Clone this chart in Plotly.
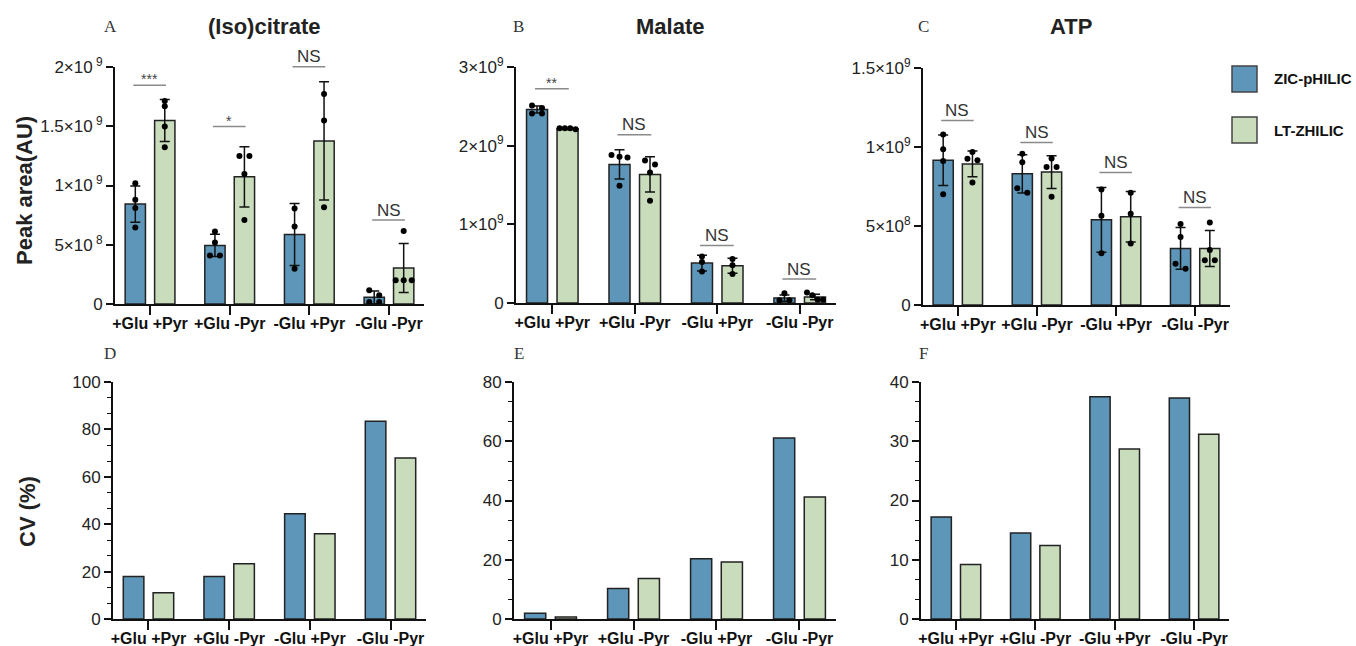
import plotly.graph_objects as go

# ---------------- data ----------------
groups = ["+Glu +Pyr", "+Glu -Pyr", "-Glu +Pyr", "-Glu -Pyr"]
series = ["ZIC-pHILIC", "LT-ZHILIC"]

# (Iso)citrate peak areas (AU)
cit_zic_mean = [0.843e9, 0.494e9, 0.587e9, 0.056e9]
cit_zic_err = [0.153e9, 0.094e9, 0.262e9, 0.054e9]
cit_zic_pts = [[1.02e9, 0.88e9, 0.81e9, 0.646e9],
               [0.612e9, 0.52e9, 0.41e9, 0.41e9],
               [0.806e9, 0.654e9, 0.298e9],
               [0.115e9, 0.073e9, 0.017e9, 0.017e9]]
cit_lt_mean = [1.548e9, 1.073e9, 1.376e9, 0.303e9]
cit_lt_err = [0.177e9, 0.254e9, 0.499e9, 0.207e9]
cit_lt_pts = [[1.713e9, 1.669e9, 1.497e9, 1.323e9],
              [1.25e9, 1.25e9, 1.098e9, 0.708e9],
              [1.772e9, 1.548e9, 0.817e9],
              [0.615e9, 0.2e9, 0.2e9, 0.2e9]]

# Malate peak areas (AU)
mal_zic_mean = [2.459e9, 1.762e9, 0.507e9, 0.063e9]
mal_zic_err = [0.045e9, 0.185e9, 0.1e9, 0.04e9]
mal_zic_pts = [[2.51e9, 2.48e9, 2.41e9, 2.41e9],
               [1.88e9, 1.86e9, 1.85e9, 1.49e9],
               [0.59e9, 0.52e9, 0.40e9],
               [0.125e9, 0.035e9, 0.035e9]]
mal_lt_mean = [2.214e9, 1.635e9, 0.473e9, 0.076e9]
mal_lt_err = [0.01e9, 0.224e9, 0.095e9, 0.035e9]
mal_lt_pts = [[2.22e9, 2.22e9, 2.22e9, 2.21e9],
              [1.81e9, 1.76e9, 1.66e9, 1.30e9],
              [0.56e9, 0.48e9, 0.37e9],
              [0.135e9, 0.10e9, 0.04e9, 0.04e9]]

# ATP peak areas (AU)
atp_zic_mean = [0.916e9, 0.83e9, 0.539e9, 0.358e9]
atp_zic_err = [0.16e9, 0.121e9, 0.205e9, 0.132e9]
atp_zic_pts = [[1.079e9, 0.986e9, 0.912e9, 0.701e9],
               [0.958e9, 0.904e9, 0.739e9, 0.71e9],
               [0.731e9, 0.565e9, 0.327e9],
               [0.512e9, 0.43e9, 0.261e9, 0.23e9]]
atp_lt_mean = [0.893e9, 0.841e9, 0.558e9, 0.358e9]
atp_lt_err = [0.082e9, 0.104e9, 0.16e9, 0.114e9]
atp_lt_pts = [[0.969e9, 0.925e9, 0.916e9, 0.775e9],
              [0.927e9, 0.874e9, 0.874e9, 0.685e9],
              [0.71e9, 0.577e9, 0.39e9],
              [0.522e9, 0.348e9, 0.284e9, 0.284e9]]

# significance labels and bracket heights
sig_cit = ["***", "*", "NS", "NS"]
sig_cit_y = [1.846e9, 1.497e9, 2.003e9, 0.708e9]
sig_mal = ["**", "NS", "NS", "NS"]
sig_mal_y = [2.725e9, 2.138e9, 0.731e9, 0.304e9]
sig_atp = ["NS", "NS", "NS", "NS"]
sig_atp_y = [1.167e9, 1.028e9, 0.838e9, 0.617e9]

# CV (%)
cv_cit_zic = [17.9, 17.9, 44.4, 83.4]
cv_cit_lt = [11.1, 23.3, 36.0, 67.9]
cv_mal_zic = [1.9, 10.3, 20.3, 61.1]
cv_mal_lt = [0.7, 13.7, 19.2, 41.2]
cv_atp_zic = [17.2, 14.5, 37.5, 37.3]
cv_atp_lt = [9.2, 12.4, 28.7, 31.2]

titles = ["(Iso)citrate", "Malate", "ATP"]
letters = ["A", "B", "C", "D", "E", "F"]

# ---------------- style / layout ----------------
W, H = 1356, 646
BLUE = "#5d96b9"
GREEN = "#c9dcbc"
EDGE = "#222222"
SANS = "Liberation Sans, Arial, sans-serif"
SERIF = "Liberation Serif, Times New Roman, serif"
XR = [-0.44, 3.44]
OFF = 0.185
BW = 0.255

# pixel boxes: (x0, x1, ytop, ybottom)
boxes = [(115, 424, 67, 304), (516, 836, 67, 303), (923, 1230, 68, 305),
         (113, 426, 382, 619), (514, 836, 382, 619), (921, 1229, 382, 619)]

def px(x):
    return x / W

def py(y):
    return 1 - y / H

fig = go.Figure()

top_panels = [
    (cit_zic_mean, cit_zic_err, cit_zic_pts, cit_lt_mean, cit_lt_err, cit_lt_pts, sig_cit, sig_cit_y,
     [0, 5e8, 1e9, 1.5e9, 2e9],
     ["0", "5×10<sup> 8</sup>", "1×10<sup> 9</sup>", "1.5×10<sup> 9</sup>", "2×10<sup> 9</sup>"], 2e9),
    (mal_zic_mean, mal_zic_err, mal_zic_pts, mal_lt_mean, mal_lt_err, mal_lt_pts, sig_mal, sig_mal_y,
     [0, 1e9, 2e9, 3e9],
     ["0", "1×10<sup>9</sup>", "2×10<sup>9</sup>", "3×10<sup>9</sup>"], 3e9),
    (atp_zic_mean, atp_zic_err, atp_zic_pts, atp_lt_mean, atp_lt_err, atp_lt_pts, sig_atp, sig_atp_y,
     [0, 5e8, 1e9, 1.5e9],
     ["0", "5×10<sup>8</sup>", "1×10<sup>9</sup>", "1.5×10<sup>9</sup>"], 1.5e9),
]
bottom_panels = [
    (cv_cit_zic, cv_cit_lt, 100, 20),
    (cv_mal_zic, cv_mal_lt, 80, 20),
    (cv_atp_zic, cv_atp_lt, 40, 10),
]

def swarm(vals, ppu, thresh=5.0):
    """horizontal pixel offsets so that overlapping dots sit side by side"""
    order = sorted(range(len(vals)), key=lambda i: -vals[i])
    clusters = []
    for i in order:
        if clusters and abs(vals[clusters[-1][-1]] - vals[i]) * ppu < thresh:
            clusters[-1].append(i)
        else:
            clusters.append([i])
    offs = [0.0] * len(vals)
    for c in clusters:
        n = len(c)
        if n > 1:
            sp = min(10.0, 16.0 / (n - 1))
            for k, i in enumerate(c):
                offs[i] = (k - (n - 1) / 2) * sp
    return offs

layout_axes = {}
annotations = []
shapes = []

def axis_setup(i, ymax, tickvals=None, ticktext=None, dtick=None, minor=None):
    x0, x1, yt, yb = boxes[i]
    n = "" if i == 0 else str(i + 1)
    layout_axes["xaxis" + n] = dict(
        domain=[px(x0), px(x1)], range=XR, anchor="y" + n, automargin=False,
        tickvals=[0, 1, 2, 3], ticktext=groups, ticks="outside", ticklen=9, tickwidth=1.5,
        tickcolor="#111", showline=True, linecolor="#111", linewidth=2,
        showgrid=False, zeroline=False, ticklabelstandoff=-5,
        tickfont=dict(family=SANS, size=16, color="#111", weight="bold"))
    ya = dict(domain=[py(yb), py(yt)], range=[0, ymax], anchor="x" + n, automargin=False,
              ticks="outside", ticklen=7, tickwidth=1.5, tickcolor="#111",
              showline=True, linecolor="#111", linewidth=2, showgrid=False, zeroline=False,
              tickfont=dict(family=SANS, size=17, color="#222"))
    if tickvals is not None:
        ya.update(tickmode="array", tickvals=tickvals, ticktext=ticktext)
    else:
        ya.update(tick0=0, dtick=dtick,
                  minor=dict(dtick=minor, ticks="outside", ticklen=4, tickwidth=1.2, tickcolor="#111"))
    layout_axes["yaxis" + n] = ya

# ---- top panels ----
for p, (zm, ze, zp, lm, le, lp, sig, sigy, tv, tt, ymax) in enumerate(top_panels):
    n = "" if p == 0 else str(p + 1)
    x0, x1, yt, yb = boxes[p]
    axis_setup(p, ymax, tv, tt)
    ppu_y = (yb - yt) / ymax
    ppu_x = (x1 - x0) / (XR[1] - XR[0])
    for s, (m, e, pts, col, off) in enumerate([(zm, ze, zp, BLUE, -OFF), (lm, le, lp, GREEN, OFF)]):
        xs = [g + off for g in range(len(groups))]
        fig.add_trace(go.Bar(
            x=xs, y=m, width=BW, name=series[s], marker=dict(color=col, line=dict(color=EDGE, width=1.5)),
            error_y=dict(type="data", array=e, color="#111", thickness=1.5, width=5),
            xaxis="x" + n, yaxis="y" + n, showlegend=False))
        px_list, py_list = [], []
        for g, vals in enumerate(pts):
            offs = swarm(vals, ppu_y)
            for v, o in zip(vals, offs):
                px_list.append(g + off + o / ppu_x)
                py_list.append(v)
        fig.add_trace(go.Scatter(
            x=px_list, y=py_list, mode="markers", marker=dict(color="#000", size=6),
            xaxis="x" + n, yaxis="y" + n, showlegend=False, cliponaxis=False))
    # significance brackets
    for g, (lab, yv) in enumerate(zip(sig, sigy)):
        yp = yb - yv * ppu_y
        xa = x0 + (g - 0.21 - XR[0]) * ppu_x
        xb = x0 + (g + 0.2 - XR[0]) * ppu_x
        shapes.append(dict(type="line", xref="paper", yref="paper",
                           x0=px(xa), x1=px(xb), y0=py(yp), y1=py(yp),
                           line=dict(color="#8a8a8a", width=1.5)))
        star = lab != "NS"
        annotations.append(dict(
            x=px((xa + xb) / 2), y=py(yp - (6 if star else 10)), xref="paper", yref="paper",
            text=lab, showarrow=False, xanchor="center", yanchor="middle",
            font=dict(family=SANS, size=14 if star else 17, color="#444" if star else "#333")))
    # title
    annotations.append(dict(x=px((x0 + x1) / 2 - 6), y=py(26), xref="paper", yref="paper",
                            text=titles[p], showarrow=False, xanchor="center", yanchor="middle",
                            font=dict(family=SANS, size=22, color="#222", weight="bold")))

# ---- bottom panels ----
for q, (zv, lv, ymax, dt) in enumerate(bottom_panels):
    p = q + 3
    n = str(p + 1)
    axis_setup(p, ymax, dtick=dt, minor=dt / 3)
    for s, (vals, col, off) in enumerate([(zv, BLUE, -OFF), (lv, GREEN, OFF)]):
        fig.add_trace(go.Bar(
            x=[g + off for g in range(len(groups))], y=vals, width=BW, name=series[s],
            marker=dict(color=col, line=dict(color=EDGE, width=1.5)),
            xaxis="x" + n, yaxis="y" + n, showlegend=False))

# panel letters
letter_pos = [(110, 26), (518, 26), (924, 26), (110, 353), (519, 353), (924, 353)]
for L, (lx, ly) in zip(letters, letter_pos):
    annotations.append(dict(x=px(lx), y=py(ly), xref="paper", yref="paper", text=L,
                            showarrow=False, xanchor="center", yanchor="middle",
                            font=dict(family=SERIF, size=17, color="#333")))

# y-axis titles
annotations.append(dict(x=px(24), y=py(191), xref="paper", yref="paper", text="Peak area(AU)",
                        textangle=-90, showarrow=False, xanchor="center", yanchor="middle",
                        font=dict(family=SANS, size=22, color="#222", weight="bold")))
annotations.append(dict(x=px(27), y=py(512), xref="paper", yref="paper", text="CV (%)",
                        textangle=-90, showarrow=False, xanchor="center", yanchor="middle",
                        font=dict(family=SANS, size=22, color="#222", weight="bold")))

# legend (drawn manually)
leg_y = [79, 130]
for s, (col, yc) in enumerate(zip([BLUE, GREEN], leg_y)):
    shapes.append(dict(type="rect", xref="paper", yref="paper",
                       x0=px(1232), x1=px(1257), y0=py(yc + 13), y1=py(yc - 13),
                       fillcolor=col, line=dict(color="#444", width=1.5)))
    annotations.append(dict(x=px(1272), y=py(yc), xref="paper", yref="paper", text=series[s],
                            showarrow=False, xanchor="left", yanchor="middle",
                            font=dict(family=SANS, size=15, color="#111", weight="bold")))

fig.update_layout(
    width=W, height=H, margin=dict(l=0, r=0, t=0, b=0, autoexpand=False),
    paper_bgcolor="white", plot_bgcolor="white", barmode="overlay",
    showlegend=False, annotations=annotations, shapes=shapes, **layout_axes)

fig.write_html("out.html")
